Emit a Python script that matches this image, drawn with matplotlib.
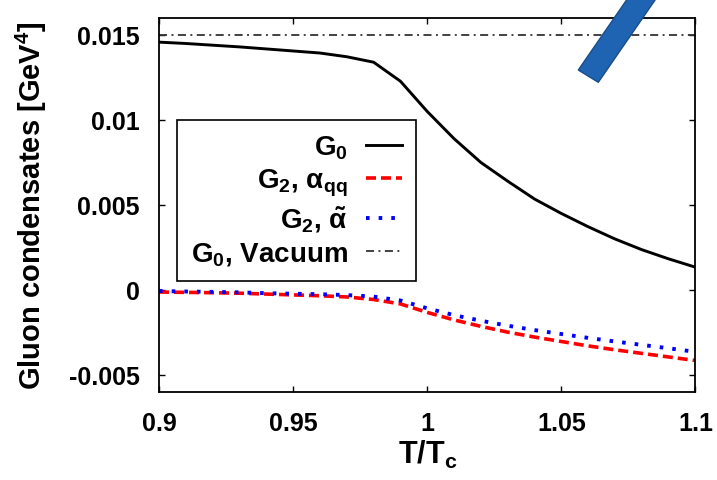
import matplotlib
matplotlib.use("Agg")
from matplotlib import pyplot as plt
from matplotlib.patches import Polygon
import numpy as np

# T/Tc grid
t_over_tc = [0.90, 0.91, 0.92, 0.93, 0.94, 0.95, 0.96, 0.97, 0.98, 0.99, 1.00,
             1.01, 1.02, 1.03, 1.04, 1.05, 1.06, 1.07, 1.08, 1.09, 1.10]

# G0 (in medium)
g0 = [0.01458, 0.01450, 0.01440, 0.01430, 0.01418, 0.01406, 0.01394, 0.01372,
      0.01340, 0.01228, 0.01050, 0.00890, 0.00750, 0.00640, 0.00535, 0.00450,
      0.00372, 0.00300, 0.00237, 0.00183, 0.00134]

# G2 with alpha_qq
g2_aqq = [-0.00012, -0.00014, -0.00016, -0.00019, -0.00024, -0.00029, -0.00034,
          -0.00041, -0.00056, -0.00082, -0.00132, -0.00176, -0.00214, -0.00248,
          -0.00277, -0.00303, -0.00329, -0.00352, -0.00373, -0.00394, -0.00415]

# G2 with alpha tilde
g2_atil = [-0.00006, -0.00009, -0.00011, -0.00014, -0.00019, -0.00022, -0.00025,
           -0.00030, -0.00039, -0.00062, -0.00108, -0.00148, -0.00181, -0.00210,
           -0.00236, -0.00259, -0.00282, -0.00303, -0.00323, -0.00343, -0.00364]

g0_vacuum = 0.015

x_ticks = [0.9, 0.95, 1.0, 1.05, 1.1]
x_tick_labels = ["0.9", "0.95", "1", "1.05", "1.1"]
y_ticks = [-0.005, 0, 0.005, 0.01, 0.015]
y_tick_labels = ["-0.005", "0", "0.005", "0.01", "0.015"]

plt.rcParams['font.family'] = ['Liberation Sans', 'DejaVu Sans']
plt.rcParams['font.weight'] = 'bold'
plt.rcParams['axes.labelweight'] = 'bold'
plt.rcParams['mathtext.fontset'] = 'custom'
plt.rcParams['mathtext.rm'] = 'Liberation Sans:bold'
plt.rcParams['mathtext.it'] = 'Liberation Sans:bold'
plt.rcParams['mathtext.bf'] = 'Liberation Sans:bold'
plt.rcParams['mathtext.default'] = 'rm'
plt.rcParams['lines.scale_dashes'] = False

fig = plt.figure(figsize=(7.17, 4.81), dpi=100)
ax = fig.add_axes([0.2218, 0.183, 0.7482, 0.7775])

ax.plot(t_over_tc, g0, color='black', lw=2.1, label=r'G$_0$')
ax.plot(t_over_tc, g2_aqq, color='#ff0000', lw=2.6, dashes=(7.2, 3.6),
        label=r'G$_2$, $\alpha_{qq}$')
ax.plot(t_over_tc, g2_atil, color='#0000ff', lw=2.8, dashes=(2.6, 6.5),
        label=r'G$_2$, $\tilde{\alpha}$')
ax.axhline(g0_vacuum, color='#333333', lw=1.3, dashes=(5.8, 3.2, 1.4, 3.2),
           label=r'G$_0$, Vacuum')

ax.set_xlim(0.9, 1.1)
ax.set_ylim(-0.006, 0.016)
ax.set_xticks(x_ticks)
ax.set_xticklabels(x_tick_labels)
ax.set_yticks(y_ticks)
ax.set_yticklabels(y_tick_labels)
ax.tick_params(direction='in', length=4, width=1, top=True, right=True,
               labelsize=18)
ax.tick_params(axis='x', pad=14)
ax.tick_params(axis='y', pad=14)
for s in ax.spines.values():
    s.set_linewidth(1.3)

ax.set_xlabel(r'T/T$_\mathregular{c}$', fontsize=22, labelpad=2)
ax.set_ylabel(r'Gluon condensates [GeV$^4$]', fontsize=21, labelpad=14)

leg = ax.legend(loc='upper left', bbox_to_anchor=(0.0336, 0.727),
                borderaxespad=0, markerfirst=False, fontsize=20,
                handlelength=1.3, handletextpad=0.65, labelspacing=0.2,
                fancybox=False, framealpha=1, edgecolor='black',
                borderpad=0.5)
leg.get_frame().set_linewidth(1.2)

# blue bar overlay (slide annotation), in figure pixels from top-left
bar_px = [(578.3, 71.0), (598.3, 83.3), (672.1, -23.7), (652.1, -36.0)]
W, H = 717.0, 481.0
bar = Polygon([(x / W, 1 - y / H) for x, y in bar_px], closed=True,
              transform=fig.transFigure, facecolor='#1f64b2',
              edgecolor='#184d8a', lw=1.0, zorder=10)
fig.patches.append(bar)

fig.savefig('out.png', dpi=100)
